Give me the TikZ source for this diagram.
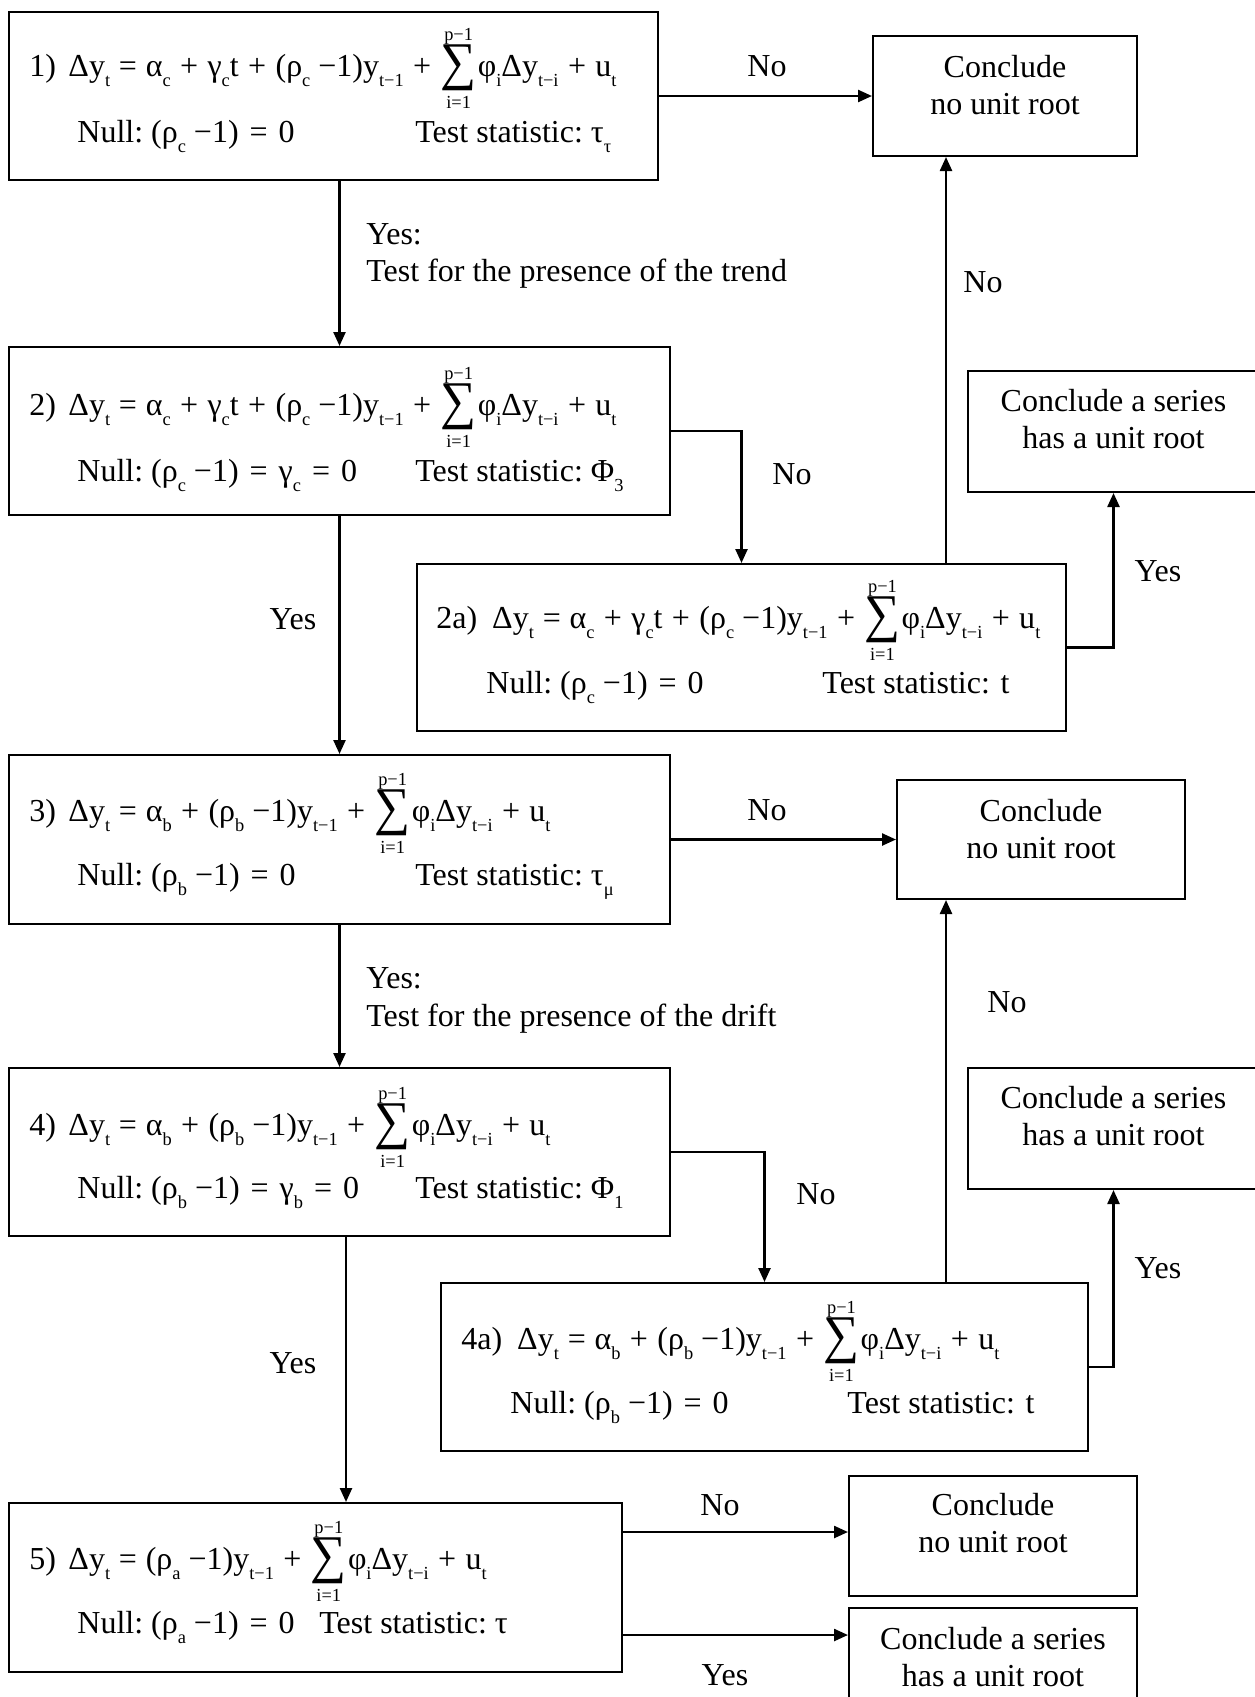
\documentclass[tikz,border=0pt]{standalone}
\usepackage{fontspec}
\usepackage{graphicx}
\setmainfont{Liberation Serif}
\usetikzlibrary{arrows.meta}
\newcommand\fs{\fontsize{16}{18.5}\selectfont}
\newcommand\sfs{\fontsize{9.2}{9.2}\selectfont}
\newcommand\sbs[1]{\raisebox{-0.32em}{\sfs #1}}
\newcommand\eq{\hspace{4.4pt}=\hspace{4.4pt}}
\newcommand\eqn{\hspace{5.5pt}=\hspace{5.5pt}}
\newcommand\pl{\hspace{4.7pt}+\hspace{4.7pt}}
\newcommand\mi{\hspace{4pt}−}
\newsavebox\sumbx
\newcommand\bsum{%
  \sbox\sumbx{\resizebox{18pt}{23pt}{\raisebox{\depth}{\fontsize{30}{30}\selectfont ∑}}}%
  \rlap{\hbox to \wd\sumbx{\hss\raisebox{17.8pt}{\sfs p−1}\hss}}%
  \rlap{\hbox to \wd\sumbx{\hss\raisebox{-16.3pt}{\sfs i=1}\hss}}%
  \raisebox{-7.5pt}{\usebox\sumbx}}
\newcommand\tail{\bsum\hspace{0.6pt}φ\sbs{i}Δy\sbs{t−i}\pl u\sbs{t}}
\begin{document}
\begin{tikzpicture}[x=0.5pt,y=-0.5pt,
  box/.style={draw, line width=1pt, rectangle, inner sep=0pt},
  arr/.style={line width=1.2pt, -{Triangle[length=7pt,width=6pt]}},
  txt/.style={anchor=base west, inner sep=0pt, font=\fs},
  lbl/.style={anchor=base, inner sep=0pt, font=\fs},
  ctxt/.style={anchor=north, align=center, inner sep=0pt, font=\fs}]
\useasboundingbox (0,0) rectangle (1254,1697);
% boxes
\node[box, minimum width=324.5pt, minimum height=84pt] (b1) at (333.5,96) {};
\node[box, minimum width=330.5pt, minimum height=84pt] (b2) at (339.5,431) {};
\node[box, minimum width=324.5pt, minimum height=83.5pt] (b2a) at (741.5,647.5) {};
\node[box, minimum width=330.5pt, minimum height=84.5pt] (b3) at (339.5,839.5) {};
\node[box, minimum width=330.5pt, minimum height=84pt] (b4) at (339.5,1152) {};
\node[box, minimum width=323.5pt, minimum height=84pt] (b4a) at (764.5,1367) {};
\node[box, minimum width=306.5pt, minimum height=84.5pt] (b5) at (315.5,1587.5) {};
\node[box, minimum width=132pt, minimum height=60pt] (c1) at (1005,96) {};
\node[box, minimum width=145.5pt, minimum height=60.5pt] (cs1) at (1113.5,431.5) {};
\node[box, minimum width=144pt, minimum height=59.5pt] (c2) at (1041,839.5) {};
\node[box, minimum width=145.5pt, minimum height=60.5pt] (cs2) at (1113.5,1128.5) {};
\node[box, minimum width=144pt, minimum height=60pt] (c3) at (993,1536) {};
\node[box, minimum width=144pt, minimum height=60pt] (c4) at (993,1668) {};
% box texts
\node[txt] (f1) at (29,76) {1)\hspace{6.2pt}Δy\sbs{t}\eq α\sbs{c}\pl γ\sbs{c}t\pl (ρ\sbs{c}\mi 1)y\sbs{t−1}\pl\tail};
\node[txt] (n1) at (77,142) {Null:\ (ρ\sbs{c}\mi 1)\eqn 0};
\node[txt] (s1) at (415,142) {Test statistic:\ τ\sbs{τ}};
\node[txt] (f2) at (29,415) {2)\hspace{6.2pt}Δy\sbs{t}\eq α\sbs{c}\pl γ\sbs{c}t\pl (ρ\sbs{c}\mi 1)y\sbs{t−1}\pl\tail};
\node[txt] (n2) at (77,481) {Null:\ (ρ\sbs{c}\mi 1)\eqn γ\sbs{c}\eqn 0};
\node[txt] (s2) at (415,481) {Test statistic:\ Φ\sbs{3}};
\node[txt] (f2a) at (436,628) {2a)\hspace{7.5pt}Δy\sbs{t}\eq α\sbs{c}\pl γ\sbs{c}t\pl (ρ\sbs{c}\mi 1)y\sbs{t−1}\pl\tail};
\node[txt] (n2a) at (486,693) {Null:\ (ρ\sbs{c}\mi 1)\eqn 0};
\node[txt] (s2a) at (822,693) {Test statistic: t};
\node[txt] (f3) at (29,821) {3)\hspace{6.2pt}Δy\sbs{t}\eq α\sbs{b}\pl (ρ\sbs{b}\mi 1)y\sbs{t−1}\pl\tail};
\node[txt] (n3) at (77,885) {Null:\ (ρ\sbs{b}\mi 1)\eqn 0};
\node[txt] (s3) at (415,885) {Test statistic:\ τ\sbs{μ}};
\node[txt] (f4) at (29,1135) {4)\hspace{6.2pt}Δy\sbs{t}\eq α\sbs{b}\pl (ρ\sbs{b}\mi 1)y\sbs{t−1}\pl\tail};
\node[txt] (n4) at (77,1198) {Null:\ (ρ\sbs{b}\mi 1)\eqn γ\sbs{b}\eqn 0};
\node[txt] (s4) at (415,1198) {Test statistic:\ Φ\sbs{1}};
\node[txt] (f4a) at (461,1349) {4a)\hspace{7.5pt}Δy\sbs{t}\eq α\sbs{b}\pl (ρ\sbs{b}\mi 1)y\sbs{t−1}\pl\tail};
\node[txt] (n4a) at (510,1413) {Null:\ (ρ\sbs{b}\mi 1)\eqn 0};
\node[txt] (s4a) at (847,1413) {Test statistic: t};
\node[txt] (f5) at (29,1569) {5)\hspace{6.2pt}Δy\sbs{t}\eq (ρ\sbs{a}\mi 1)y\sbs{t−1}\pl\tail};
\node[txt] (n5) at (77,1633) {Null:\ (ρ\sbs{a}\mi 1)\eqn 0};
\node[txt] (s5) at (319,1633) {Test statistic:\ τ};
% conclusion texts
\node[ctxt] (tc1) at (1005,55) {Conclude\\no unit root};
\node[ctxt] (tcs1) at (1113.5,389) {Conclude a series\\has a unit root};
\node[ctxt] (tc2) at (1041,799) {Conclude\\no unit root};
\node[ctxt] (tcs2) at (1113.5,1086) {Conclude a series\\has a unit root};
\node[ctxt] (tc3) at (993,1493) {Conclude\\no unit root};
\node[ctxt] (tc4) at (993,1627) {Conclude a series\\has a unit root};
% helper coordinates
\coordinate (vA) at (946,0);
\coordinate (vB) at (346,0);
\coordinate (hN) at (0,1532);
\coordinate (hY) at (0,1635);
% connectors
\draw[arr] (b1.east) -- (c1.west);
\draw[arr] (b1.south -| b2.north) -- (b2.north);
\draw[arr] (b2.east) -| (b2a.north);
\draw[arr] (b2a.north -| vA) -- (c1.south -| vA);
\draw[arr] (b2a.east) -| (cs1.south);
\draw[arr] (b2.south) -- (b3.north);
\draw[arr] (b3.east) -- (c2.west);
\draw[arr] (b3.south) -- (b4.north);
\draw[arr] (b4.east) -| (b4a.north);
\draw[arr] (b4a.north -| vA) -- (c2.south -| vA);
\draw[arr] (b4a.east) -| (cs2.south);
\draw[arr] (b4.south -| vB) -- (b5.north -| vB);
\draw[arr] (b5.east |- hN) -- (c3.west |- hN);
\draw[arr] (b5.east |- hY) -- (c4.west |- hY);
% labels
\node[lbl] (l1) at (767,76) {No};
\node[txt] (l2) at (366,244) {Yes:};
\node[txt] (l3) at (366,281) {Test for the presence of the trend};
\node[lbl] (l4) at (792,484) {No};
\node[lbl] (l5) at (983,292) {No};
\node[lbl] (l6) at (1158,581) {Yes};
\node[lbl] (l7) at (293,629) {Yes};
\node[lbl] (l8) at (767,820) {No};
\node[txt] (l9) at (366,988) {Yes:};
\node[txt] (l10) at (366,1026) {Test for the presence of the drift};
\node[lbl] (l11) at (816,1204) {No};
\node[lbl] (l12) at (1007,1012) {No};
\node[lbl] (l13) at (1158,1278) {Yes};
\node[lbl] (l14) at (293,1373) {Yes};
\node[lbl] (l15) at (720,1515) {No};
\node[lbl] (l16) at (725,1685) {Yes};
\end{tikzpicture}
\end{document}
